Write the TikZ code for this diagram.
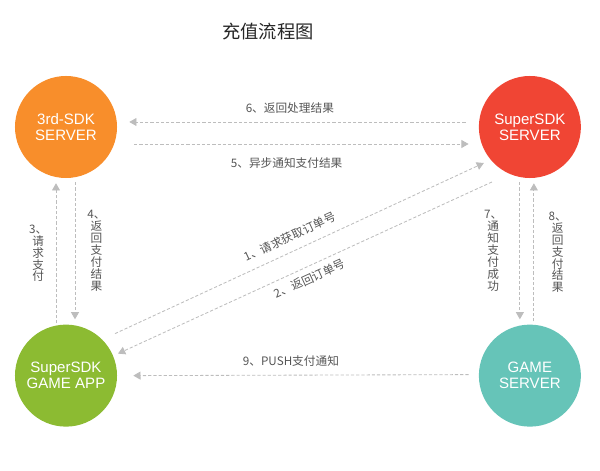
\documentclass[tikz,border=0pt]{standalone}
\usepackage{fontspec}
\setmainfont{Liberation Sans}
\newfontfamily\cjk{Noto Sans CJK SC}
\usepackage{tikz}
\usetikzlibrary{arrows.meta, positioning}

\definecolor{sdkorange}{HTML}{F88E2B}
\definecolor{superred}{HTML}{F04534}
\definecolor{appgreen}{HTML}{8CBB32}
\definecolor{gameteal}{HTML}{66C4B8}
\definecolor{arrowgray}{HTML}{BDBDBD}
\definecolor{labelgray}{HTML}{555555}

\begin{document}
\begin{tikzpicture}[
  x=0.025cm, y=-0.025cm,
  node distance=3.65cm and 9.03cm,
  party/.style={circle, minimum size=2.55cm, inner sep=0pt, align=center,
    text=white, font=\fontsize{10.7}{11.2}\selectfont},
  lbl/.style={text=labelgray, inner sep=0pt, align=center,
    font=\cjk\fontsize{8.3}{8.5}\selectfont},
  arr/.style={-{Triangle[length=1.8mm, width=2mm]}, draw=arrowgray,
    line width=0.6pt, dash pattern=on 0.8mm off 0.5mm}
]
\useasboundingbox (0,0) rectangle (600,471);
\node[text=black!85, font=\cjk\fontsize{13}{13}\selectfont] (title) at (268,32) {充值流程图};
\node[party, fill=sdkorange] (sdk) at (66,127) {3rd-SDK\\SERVER};
\node[party, fill=superred, right=of sdk] (ss) {SuperSDK\\SERVER};
\node[party, fill=appgreen, below=of sdk] (app) {SuperSDK\\GAME APP};
\node[party, fill=gameteal, below=of ss] (gs) {GAME\\SERVER};

% top pair
\draw[arr] ([shift={(-13,-5)}]ss.west) -- node[lbl, above=2mm, xshift=-1.9mm] {6、返回处理结果} ([shift={(12,-5)}]sdk.east);
\draw[arr] ([shift={(17,17)}]sdk.east) -- node[lbl, below=3.2mm, xshift=-3.7mm] {5、异步通知支付结果} ([shift={(-10,17)}]ss.west);
% left pair
\draw[arr] ([shift={(-10,-1)}]app.north) -- node[lbl, left=2.1mm] {3、\\请\\求\\支\\付} ([shift={(-10,5)}]sdk.south);
\draw[arr] ([shift={(9,4)}]sdk.south) -- node[lbl, right=3mm] {4、\\返\\回\\支\\付\\结\\果} ([shift={(9,-5)}]app.north);
% right pair
\draw[arr] ([shift={(-10,4)}]ss.south) -- node[lbl, left=4.3mm] {7、\\通\\知\\支\\付\\成\\功} ([shift={(-10,-5)}]gs.north);
\draw[arr] ([shift={(4,-3)}]gs.north) -- node[lbl, right=3.6mm] {8、\\返\\回\\支\\付\\结\\果} ([shift={(4,5)}]ss.south);
% diagonals
\draw[arr] ([shift={(49,-42)}]app.center) -- node[lbl, sloped, above=2.2mm, xshift=-1mm] {1、请求获取订单号} ([shift={(-46,36)}]ss.center);
\draw[arr] ([shift={(-38,55)}]ss.center) -- node[lbl, sloped, below=1.5mm] {2、返回订单号} ([shift={(52,-22)}]app.center);
% bottom
\draw[arr] ([shift={(-10,-1)}]gs.west) -- node[lbl, above=2mm, xshift=-2.5mm] {9、PUSH支付通知} ([shift={(16,0)}]app.east);
\end{tikzpicture}
\end{document}
